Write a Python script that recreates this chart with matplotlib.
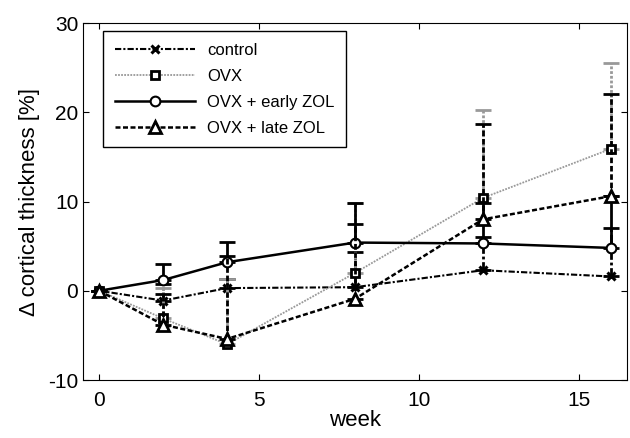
import numpy as np
import matplotlib.pyplot as plt

plt.rcParams['font.family'] = ['Liberation Sans', 'DejaVu Sans']
plt.rcParams['axes.unicode_minus'] = False

weeks = [0, 2, 4, 8, 12, 16]

control = [0, -1.1, 0.3, 0.4, 2.3, 1.6]
control_err = [0, 1.9, 1.0, 3.9, 3.7, 5.4]

ovx = [0, -3.1, -6.0, 2.0, 10.4, 15.9]
ovx_err = [0, 3.4, 7.3, 7.8, 9.9, 9.6]

early_zol = [0, 1.2, 3.2, 5.4, 5.3, 4.8]
early_err = [0, 1.8, 2.3, 4.4, 4.5, 5.8]

late_zol = [0, -3.8, -5.4, -0.9, 8.0, 10.6]
late_err = [0, 3.4, 9.3, 8.4, 10.7, 11.5]

labels = ['control', 'OVX', 'OVX + early ZOL', 'OVX + late ZOL']

fig = plt.figure(figsize=(6.3, 4.38), dpi=100)
ax = fig.add_axes([0.132, 0.1324, 0.863, 0.815])

styles = [
    dict(y=control, e=control_err, marker='x', ls=(0, (3, 1, 1, 1)), color='black', lw=1.5, ms=6, mew=2.2),
    dict(y=ovx, e=ovx_err, marker='s', ls=(0, (1, 0.7)), color='#999999', lw=1.3, ms=6, mew=2),
    dict(y=early_zol, e=early_err, marker='o', ls='-', color='black', lw=1.8, ms=7, mew=1.5),
    dict(y=late_zol, e=late_err, marker='^', ls=(0, (2, 1)), color='black', lw=1.8, ms=9, mew=2),
]

handles = []
for st, lab in zip(styles, labels):
    # only the upper half of the error bar is drawn
    err = [np.zeros(len(st['e'])), st['e']]
    cont = ax.errorbar(weeks, st['y'], yerr=err, fmt='none', ecolor=st['color'],
                       elinewidth=2, capsize=6, capthick=2)
    for c in cont[2]:
        c.set_linestyle(st['ls'])
    line, = ax.plot(weeks, st['y'], marker=st['marker'], linestyle=st['ls'],
                    color=st['color'], lw=st['lw'], ms=st['ms'], mew=st['mew'],
                    mfc='white', mec='black', label=lab)
    handles.append(line)

ax.set_xlim(-0.5, 16.5)
ax.set_ylim(-10, 30)
ax.set_xticks([0, 5, 10, 15])
ax.set_yticks([-10, 0, 10, 20, 30])
ax.tick_params(direction='in', top=True, right=True, labelsize=15, length=4)
ax.tick_params(axis='x', pad=8)
ax.set_xlabel('week', fontsize=16, labelpad=0)
ax.set_ylabel('Δ cortical thickness [%]', fontsize=16, labelpad=6)

leg = ax.legend(handles=handles, loc='upper left', bbox_to_anchor=(0.022, 1.0),
                fontsize=12, handlelength=4.8, handletextpad=0.7, fancybox=False,
                edgecolor='black', framealpha=1, borderpad=0.7, labelspacing=0.65)
leg.get_frame().set_linewidth(1)

fig.savefig('out.png', dpi=100)
